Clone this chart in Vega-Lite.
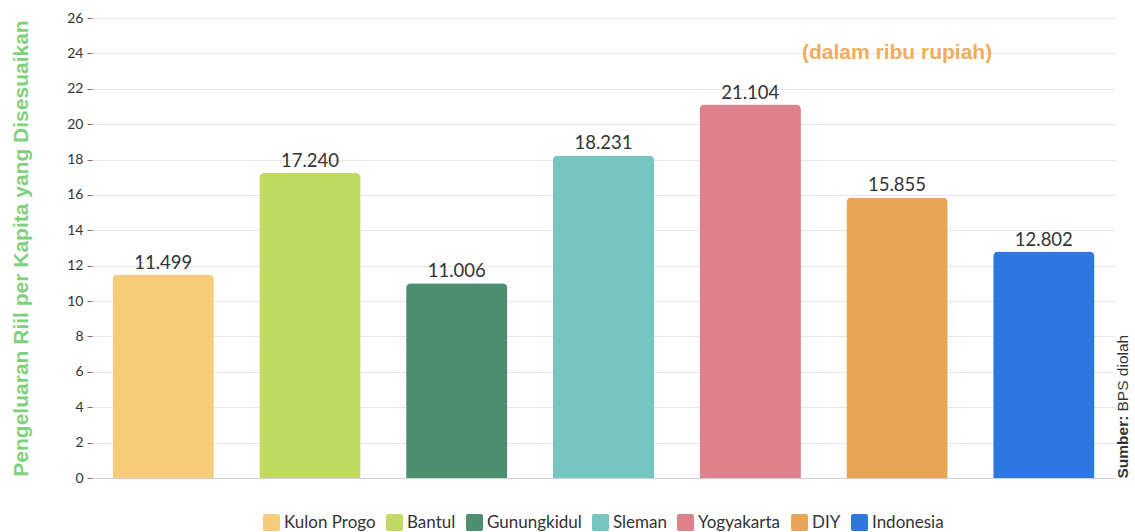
{
  "$schema": "https://vega.github.io/schema/vega-lite/v6.json",
  "width": 1023,
  "height": 460,
  "autosize": {"type": "none"},
  "padding": {"left": 92, "top": 18, "right": 20, "bottom": 54},
  "config": {"view": {"stroke": null}, "font": "Lato",
             "legend": {"layout": {"bottom": {"anchor": "middle"}}}},
  "data": {"values": [
    {"wilayah": "Kulon Progo", "nilai": 11.499},
    {"wilayah": "Bantul", "nilai": 17.240},
    {"wilayah": "Gunungkidul", "nilai": 11.006},
    {"wilayah": "Sleman", "nilai": 18.231},
    {"wilayah": "Yogyakarta", "nilai": 21.104},
    {"wilayah": "DIY", "nilai": 15.855},
    {"wilayah": "Indonesia", "nilai": 12.802}
  ]},
  "resolve": {"scale": {"y": "independent"}},
  "layer": [
    {
      "mark": {"type": "bar", "cornerRadiusTopLeft": 5, "cornerRadiusTopRight": 5},
      "encoding": {
        "x": {"field": "wilayah", "type": "nominal", "sort": null,
              "scale": {"domain": ["Kulon Progo", "Bantul", "Gunungkidul", "Sleman", "Yogyakarta", "DIY", "Indonesia"],
                        "paddingInner": 0.31, "paddingOuter": 0.14},
              "axis": {"labels": false, "ticks": false, "title": null, "domainColor": "#d0d0d0"}},
        "y": {"field": "nilai", "type": "quantitative",
              "scale": {"domain": [0, 26], "nice": false},
              "axis": {"values": [0, 2, 4, 6, 8, 10, 12, 14, 16, 18, 20, 22, 24, 26],
                       "title": "Pengeluaran Riil per Kapita yang Disesuaikan",
                       "titleFontSize": 21, "titleFontWeight": "bold", "titleColor": "#7ED17C",
                       "titleFont": "Liberation Sans", "titlePadding": 35,
                       "labelFontSize": 14, "labelColor": "#333333", "labelPadding": 4,
                       "tickSize": 5, "tickColor": "#8a6a6a", "domain": false,
                       "gridColor": "#e6e6e6"}},
        "color": {"field": "wilayah", "type": "nominal", "sort": null,
                  "scale": {"domain": ["Kulon Progo", "Bantul", "Gunungkidul", "Sleman", "Yogyakarta", "DIY", "Indonesia"],
                            "range": ["#F7CB7A", "#C1DA62", "#4E8F72", "#77C5C0", "#DE818A", "#E9A456", "#2F77E0"]},
                  "legend": {"orient": "bottom", "direction": "horizontal", "title": null,
                             "symbolType": "M -0.75,-1 L 0.75,-1 A 0.25 0.25 0 0 1 1,-0.75 L 1,0.75 A 0.25 0.25 0 0 1 0.75,1 L -0.75,1 A 0.25 0.25 0 0 1 -1,0.75 L -1,-0.75 A 0.25 0.25 0 0 1 -0.75,-1 Z",
                             "symbolSize": 289, "symbolStrokeWidth": 0,
                             "labelFontSize": 17, "labelColor": "#333333", "offset": 36,
                             "columnPadding": 10, "labelOffset": 4}}
      }
    },
    {
      "mark": {"type": "text", "dy": -12, "fontSize": 18.5, "color": "#333333", "font": "Lato"},
      "encoding": {
        "x": {"field": "wilayah", "type": "nominal", "sort": null},
        "y": {"field": "nilai", "type": "quantitative", "scale": {"domain": [0, 26], "nice": false}, "axis": null},
        "text": {"field": "nilai", "type": "quantitative", "format": ".3f"}
      }
    },
    {
      "data": {"values": [{"t": "(dalam ribu rupiah)", "wilayah": "DIY", "posy": 24.0}]},
      "mark": {"type": "text", "fontSize": 21, "fontWeight": "bold", "color": "#F0AC5F", "font": "Liberation Sans"},
      "encoding": {
        "x": {"field": "wilayah", "type": "nominal"},
        "y": {"field": "posy", "type": "quantitative", "scale": {"domain": [0, 26], "nice": false}, "axis": null},
        "text": {"field": "t", "type": "nominal"}
      }
    },
    {
      "data": {"values": [{"v": 0}]},
      "mark": {"type": "text", "text": ""},
      "encoding": {
        "y": {"field": "v", "type": "quantitative", "scale": {"domain": [0, 26], "nice": false},
              "axis": {"orient": "right", "labels": false, "ticks": false, "domain": false, "grid": false,
                       "title": "Sumber:", "titleFont": "Liberation Sans", "titleFontSize": 15.5,
                       "titleFontWeight": "bold", "titleColor": "#333333", "titleAngle": 270,
                       "titleAlign": "left", "titleY": 460, "titlePadding": 15}}
      }
    },
    {
      "data": {"values": [{"w": 0}]},
      "mark": {"type": "text", "text": ""},
      "encoding": {
        "y": {"field": "w", "type": "quantitative", "scale": {"domain": [0, 26], "nice": false},
              "axis": {"orient": "right", "labels": false, "ticks": false, "domain": false, "grid": false,
                       "title": "BPS diolah", "titleFont": "Liberation Sans", "titleFontSize": 15.5,
                       "titleFontWeight": "normal", "titleColor": "#333333", "titleAngle": 270,
                       "titleAlign": "left", "titleY": 393, "titlePadding": 15}}
      }
    }
  ]
}
